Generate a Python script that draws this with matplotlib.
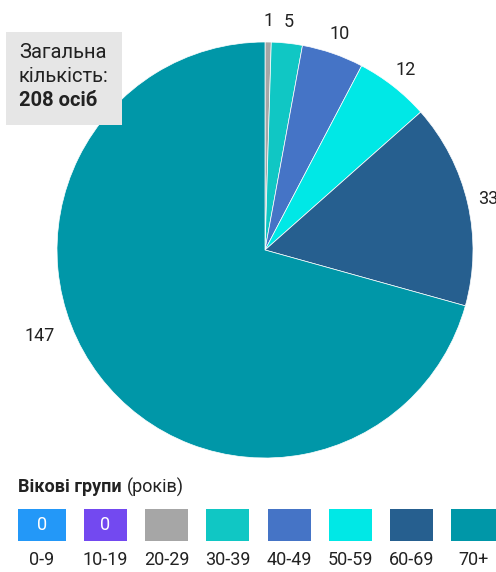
import matplotlib
matplotlib.use("Agg")
import matplotlib.pyplot as plt
from matplotlib import font_manager
from matplotlib.patches import Rectangle
import numpy as np

plt.rcParams['font.family'] = ['Roboto', 'DejaVu Sans']

categories = ["0-9", "10-19", "20-29", "30-39", "40-49", "50-59", "60-69", "70+"]
values = [0, 0, 1, 5, 10, 12, 33, 147]
colors = ["#2398f8", "#7349f0", "#a6a6a6", "#10c7c4", "#4574c6", "#00e8e6", "#265f8f", "#0097a8"]
total_label = "208 осіб"

W, H = 496, 572
fig = plt.figure(figsize=(W/100, H/100), dpi=100)
cx, cy, r = 265, 250, 208
ax = fig.add_axes([(cx-r)/W, 1-(cy+r)/H, 2*r/W, 2*r/H])

pv = [v for v in values if v > 0]
pc = [c for v, c in zip(values, colors) if v > 0]
wedges, texts = ax.pie(pv, colors=pc, startangle=90, counterclock=False, radius=1,
                       labels=[str(v) for v in pv], labeldistance=1.1,
                       wedgeprops=dict(linewidth=0.5, edgecolor='white'),
                       textprops=dict(fontsize=13, color='#222222'))
ax.set_aspect('auto')
ax.set_xlim(-1, 1); ax.set_ylim(-1, 1); ax.axis('off')
for w in wedges:
    w.set_clip_on(False)
for t in texts:
    t.set_clip_on(False)
    t.set_ha('center'); t.set_va('center')
ang = np.deg2rad(-159)
texts[-1].set_position((1.16*np.cos(ang), 1.16*np.sin(ang)))

# total box
fig.patches.append(Rectangle((6/W, 1-125/H), 116/W, 93/H, transform=fig.transFigure,
                             facecolor='#e6e6e6', edgecolor='none', zorder=5))
fig.text(19/W, 1-53/H, "Загальна", fontsize=14.5, color='#222222', va='center', ha='left', zorder=6)
fig.text(19/W, 1-77/H, "кількість:", fontsize=14.5, color='#222222', va='center', ha='left', zorder=6)
fig.text(19/W, 1-101/H, total_label, fontsize=14.5, color='#222222', weight='bold', va='center', ha='left', zorder=6)

# legend
t1 = fig.text(18/W, 1-487/H, "Вікові групи", fontsize=13, weight='bold', color='#222222', va='center', ha='left')
fig.canvas.draw()
bb = t1.get_window_extent()
fig.text((bb.x1 + 5)/W, 1-487/H, "(років)", fontsize=13, color='#222222', va='center', ha='left')
xs = [18, 84, 145, 206, 268, 329, 390, 451]
ws = [48, 43, 43, 43, 43, 43, 43, 45]
for x, w, c, lab, v in zip(xs, ws, colors, categories, values):
    fig.patches.append(Rectangle((x/W, 1-541/H), w/W, 32/H, transform=fig.transFigure,
                                 facecolor=c, edgecolor='none'))
    if v == 0:
        fig.text((x+w/2)/W, 1-525/H, "0", fontsize=13, color='white', ha='center', va='center')
    fig.text((x+w/2)/W, 1-560/H, lab, fontsize=13, color='#222222', ha='center', va='center')

fig.savefig("out.png", dpi=100)
